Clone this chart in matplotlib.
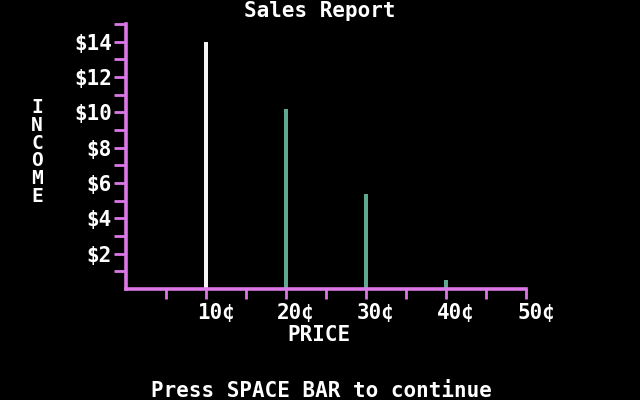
import matplotlib
matplotlib.use("Agg")
import matplotlib.pyplot as plt
from matplotlib.transforms import ScaledTranslation

# sales data
prices = [10, 20, 30, 40]
incomes = [14.0, 10.2, 5.4, 0.5]
bar_colors = ["#f4f4f4", "#5fa892", "#5fa892", "#5fa892"]
price_labels = ["10¢", "20¢", "30¢", "40¢", "50¢"]
price_ticks = [10, 20, 30, 40, 50]
income_ticks = [2, 4, 6, 8, 10, 12, 14]
income_labels = ["$2", "$4", "$6", "$8", "$10", "$12", "$14"]

magenta = "#dc78e6"
font = dict(family="DejaVu Sans Mono", weight="bold", color="white")

fig = plt.figure(figsize=(6.4, 4), dpi=100, facecolor="black")
ax = fig.add_axes([126/640, 1-289/400, 400/640, 265/400])
ax.set_facecolor("black")

ax.bar(prices, incomes, width=0.5, color=bar_colors, zorder=1)

ax.set_xlim(0, 50)
ax.set_ylim(0, 15)
for s in ["top", "right"]:
    ax.spines[s].set_visible(False)
for s in ["left", "bottom"]:
    ax.spines[s].set_color(magenta)
    ax.spines[s].set_linewidth(2.6)
    ax.spines[s].set_zorder(3)

ax.set_xticks(price_ticks)
ax.set_xticks([5, 15, 25, 35, 45], minor=True)
ax.set_xticklabels(price_labels, fontsize=15, **font)
ax.set_yticks(income_ticks)
ax.set_yticks([1, 3, 5, 7, 9, 11, 13, 15], minor=True)
ax.set_yticklabels(income_labels, fontsize=15, **font)

ax.tick_params(axis="x", which="both", direction="out", length=7, width=2,
               color=magenta, pad=3)
ax.tick_params(axis="y", which="both", direction="out", length=9, width=2,
               color=magenta, pad=1)

# x labels sit a little right of their ticks
shift = ScaledTranslation(10/100, 0, fig.dpi_scale_trans)
for lab in ax.get_xticklabels():
    lab.set_transform(lab.get_transform() + shift)

fig.text(0.5, 0.997, "Sales Report", ha="center", va="top", fontsize=15, **font)
fig.text(0.498, 0.1625, "PRICE", ha="center", va="center", fontsize=15, **font)
fig.text(0.058, 0.62, "\n".join("INCOME"), ha="center", va="center",
         fontsize=14, linespacing=0.92, **font)
fig.text(0.503, 0.0225, "Press SPACE BAR to continue", ha="center", va="center",
         fontsize=15, **font)

fig.savefig("out.png", dpi=100, facecolor="black")
